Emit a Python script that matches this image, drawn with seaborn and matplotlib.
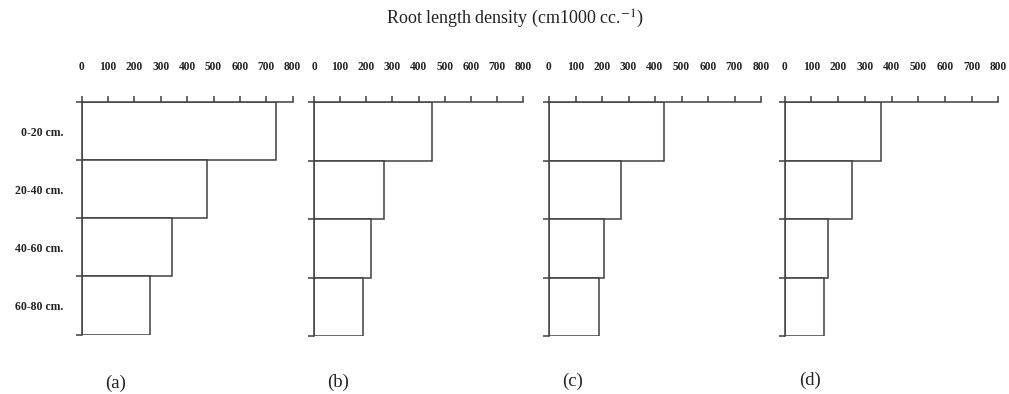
import matplotlib
matplotlib.use("Agg")
import matplotlib.pyplot as plt
import seaborn as sns
import pandas as pd
import numpy as np

sns.set_style("white")
plt.rcParams['font.family'] = ['Liberation Serif', 'DejaVu Serif']
plt.rcParams['mathtext.fontset'] = 'stix'

depths = ["0-20 cm.", "20-40 cm.", "40-60 cm.", "60-80 cm."]
panels = ["(a)", "(b)", "(c)", "(d)"]
vals_a = [736, 474, 342, 258]
vals_b = [452, 266, 218, 186]
vals_c = [433, 270, 206, 189]
vals_d = [359, 251, 162, 146]
xticks = [0, 100, 200, 300, 400, 500, 600, 700, 800]
title = "Root length density (cm1000 cc.$^{-1}$)"

series = [vals_a, vals_b, vals_c, vals_d]
df = pd.DataFrame({
    "panel": np.repeat(panels, len(depths)),
    "depth": depths * len(panels),
    "value": np.concatenate(series),
})

W, H = 1009, 394
fig = plt.figure(figsize=(W / 100, H / 100), dpi=100)
lc = "#404040"

# pixel boxes: left, right, top, bottom
boxes = [(81.7, 292.7, 102, 334.5),
         (314.0, 523.3, 102, 336.0),
         (549.0, 761.0, 102, 336.0),
         (784.7, 998.3, 102, 336.0)]
label_x = [116, 338, 573, 810]
label_y = [383, 382, 381, 380]

for i, (p, (l, r, t, b)) in enumerate(zip(panels, boxes)):
    ax = fig.add_axes([l / W, 1 - b / H, (r - l) / W, (b - t) / H])
    sub = df[df.panel == p]
    sns.barplot(data=sub, x="value", y="depth", order=depths, orient="h",
                width=1.0, color="white", edgecolor=lc, linewidth=1.1,
                saturation=1, ax=ax)
    ax.set_xlim(0, 800)
    ax.set_ylim(3.5, -0.5)
    ax.xaxis.tick_top()
    ax.set_xticks(xticks)
    ax.set_xticklabels([str(v) for v in xticks], fontsize=8.3, fontweight="bold",
                       color="#222222")
    ax.tick_params(axis="x", which="major", direction="out", length=4,
                   width=1.1, color=lc, pad=17, top=True, bottom=False)
    ax.set_yticks(range(len(depths)))
    ax.set_yticks(np.arange(-0.5, len(depths), 1.0), minor=True)
    ax.tick_params(axis="y", which="major", length=0, pad=13)
    ax.tick_params(axis="y", which="minor", direction="out", length=4.5,
                   width=1.1, color=lc, left=True)
    if i == 0:
        ax.set_yticklabels(depths, fontsize=8.5, fontweight="bold", color="#222222")
    else:
        ax.set_yticklabels([])
    ax.set_xlabel("")
    ax.set_ylabel("")
    for s in ["right", "bottom"]:
        ax.spines[s].set_visible(False)
    for s in ["top", "left"]:
        ax.spines[s].set_visible(True)
        ax.spines[s].set_color(lc)
        ax.spines[s].set_linewidth(1.1)
    ax.set_facecolor("white")
    fig.text(label_x[i] / W, 1 - label_y[i] / H, p, ha="center", va="center",
             fontsize=13.5, color="#222222")

fig.text(515 / W, 1 - 19 / H, title, ha="center", va="center",
         fontsize=13, color="#222222")

fig.savefig("out.png", dpi=100, facecolor="white")
